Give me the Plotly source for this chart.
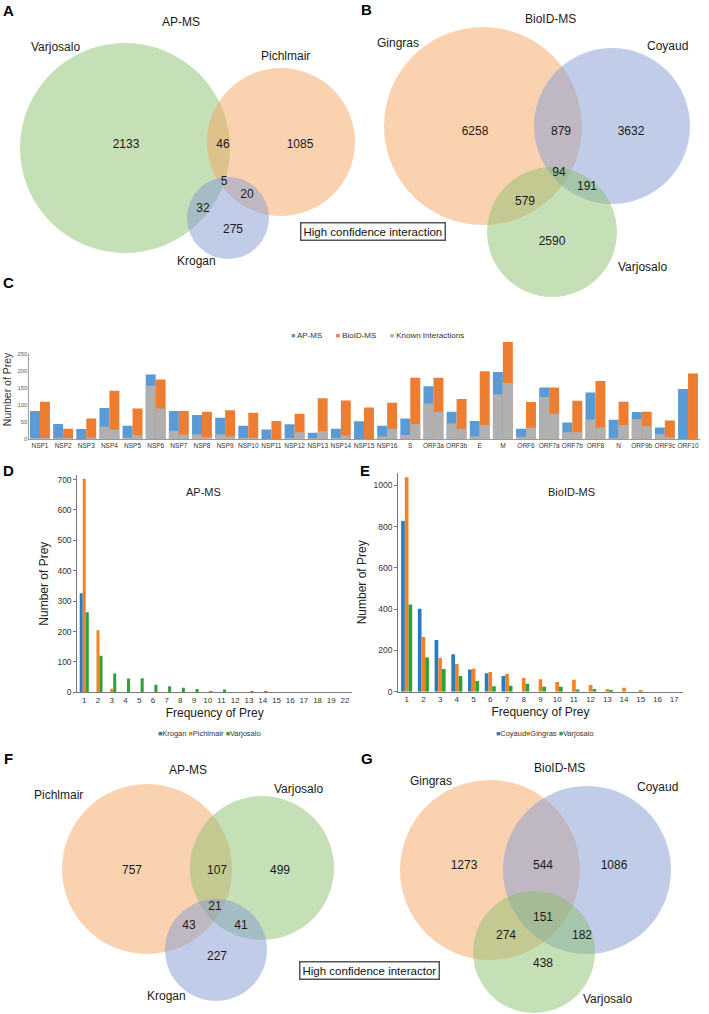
import plotly.graph_objects as go

W, H = 709, 1014
FONT = "Liberation Sans, Arial, Helvetica, sans-serif"

# ---------------- Panel C data ----------------
c_categories = ["NSP1", "NSP2", "NSP3", "NSP4", "NSP5", "NSP6", "NSP7", "NSP8", "NSP9", "NSP10",
                "NSP11", "NSP12", "NSP13", "NSP14", "NSP15", "NSP16", "S", "ORF3a", "ORF3b", "E",
                "M", "ORF6", "ORF7a", "ORF7b", "ORF8", "N", "ORF9b", "ORF9c", "ORF10"]
c_apms_total = [82, 44, 29, 91, 39, 189, 82, 70, 62, 39, 28, 43, 18, 30, 52, 39, 60, 154, 80, 53,
                196, 30, 151, 48, 136, 56, 79, 34, 146]
c_apms_known = [2, 4, 0, 36, 4, 156, 24, 13, 13, 1, 0, 3, 2, 3, 0, 7, 12, 104, 45, 7,
                130, 6, 123, 20, 57, 3, 58, 14, 0]
c_bioid_total = [109, 30, 60, 141, 89, 174, 82, 80, 84, 77, 53, 74, 119, 113, 92, 106, 179, 179, 117, 198,
                 284, 108, 151, 112, 170, 109, 80, 54, 192]
c_bioid_known = [3, 2, 4, 28, 11, 89, 13, 6, 8, 4, 0, 20, 23, 10, 0, 30, 44, 79, 30, 41,
                 164, 34, 74, 20, 34, 41, 37, 5, 0]

# ---------------- Panel D data ----------------
d_freq = [str(i) for i in range(1, 20)] + ["22"]
d_krogan = [326, 0, 0, 0, 0, 0, 0, 0, 0, 0, 0, 0, 0, 0, 0, 0, 0, 0, 0, 0]
d_pichlmair = [703, 204, 12, 0, 0, 0, 0, 0, 0, 0, 0, 0, 0, 0, 0, 0, 0, 0, 0, 0]
d_varjosalo = [263, 120, 62, 45, 46, 25, 20, 15, 11, 4, 9, 0, 2, 3, 0, 0, 0, 0, 0, 0]

# ---------------- Panel E data ----------------
e_freq = [str(i) for i in range(1, 18)]
e_coyaud = [827, 402, 250, 181, 108, 89, 76, 0, 0, 0, 0, 0, 0, 0, 0, 0, 0]
e_gingras = [1040, 265, 163, 134, 111, 95, 86, 66, 60, 47, 58, 32, 13, 19, 8, 0, 0]
e_varjosalo = [423, 166, 110, 76, 52, 27, 29, 39, 24, 24, 11, 13, 6, 0, 0, 0, 0]

# ---------------- Venn data (region counts) ----------------
a_counts = [2133, 46, 1085, 5, 20, 32, 275]
b_counts = [6258, 879, 3632, 94, 191, 579, 2590]
f_counts = [757, 107, 499, 21, 43, 41, 227]
g_counts = [1273, 544, 1086, 151, 274, 182, 438]

# colours
C_BLUE, C_ORANGE, C_GRAY = "#5B9BD5", "#ED7D31", "#B0B0B0"
D_BLUE, D_ORANGE, D_GREEN = "#2A7AC0", "#F58220", "#2EA03A"
V_ORANGE = "rgba(245,165,97,0.5)"
V_GREEN = "rgba(140,192,112,0.5)"
V_BLUE = "rgba(132,156,210,0.5)"

# Venn layout (pixel geometry of each panel: circles and text positions)
venn = {
    "A": dict(circles=[(125, 148, 105, V_GREEN), (281, 142, 74, V_ORANGE), (228, 218, 41, V_BLUE)],
              labels=[("AP-MS", 181, 22), ("Varjosalo", 55, 47), ("Pichlmair", 285, 56), ("Krogan", 196, 261)],
              pos=[(126, 145), (223, 145), (300, 145), (224, 182), (247, 195), (203, 209), (233, 230)],
              counts=a_counts),
    "B": dict(circles=[(483, 126, 99, V_ORANGE), (612, 126, 78, V_BLUE), (552, 232, 65, V_GREEN)],
              labels=[("BioID-MS", 550, 19), ("Gingras", 398, 43), ("Coyaud", 667, 46), ("Varjosalo", 642, 267)],
              pos=[(475, 132), (561, 132), (631, 132), (559, 173), (587, 187), (525, 202), (552, 242)],
              counts=b_counts),
    "F": dict(circles=[(147, 869, 85, V_ORANGE), (262, 868, 72, V_GREEN), (216, 950, 51, V_BLUE)],
              labels=[("AP-MS", 188, 770), ("Pichlmair", 58, 795), ("Varjosalo", 298, 789), ("Krogan", 166, 996)],
              pos=[(132, 871), (217, 871), (280, 871), (215, 907), (189, 926), (241, 926), (217, 957)],
              counts=f_counts),
    "G": dict(circles=[(490, 870, 90, V_ORANGE), (587, 870, 84, V_BLUE), (534, 952, 61, V_GREEN)],
              labels=[("BioID-MS", 559, 768), ("Gingras", 431, 781), ("Coyaud", 657, 787), ("Varjosalo", 607, 999)],
              pos=[(464, 866), (543, 866), (614, 866), (543, 918), (506, 936), (582, 936), (543, 964)],
              counts=g_counts),
}


def py(y):
    return 1 - y / H


def pxx(x):
    return x / W


fig = go.Figure()

# ---------- Panel C: stacked/grouped bars ----------
bw = 0.43
fig.add_trace(go.Bar(x=c_categories, y=c_apms_total, name="AP-MS", marker_color=C_BLUE,
                     offset=-bw, width=bw, xaxis="x", yaxis="y", showlegend=False))
fig.add_trace(go.Bar(x=c_categories, y=c_apms_known, name="Known Interactions", marker_color=C_GRAY,
                     offset=-bw, width=bw, xaxis="x", yaxis="y", showlegend=False))
fig.add_trace(go.Bar(x=c_categories, y=c_bioid_total, name="BioID-MS", marker_color=C_ORANGE,
                     offset=0, width=bw, xaxis="x", yaxis="y", showlegend=False))
fig.add_trace(go.Bar(x=c_categories, y=c_bioid_known, name="Known Interactions", marker_color=C_GRAY,
                     offset=0, width=bw, xaxis="x", yaxis="y", showlegend=False))

# ---------- Panel D ----------
dw = 0.22
for vals, name, col, off in [(d_krogan, "Krogan", D_BLUE, -1.5 * dw),
                             (d_pichlmair, "Pichlmair", D_ORANGE, -0.5 * dw),
                             (d_varjosalo, "Varjosalo", D_GREEN, 0.5 * dw)]:
    fig.add_trace(go.Bar(x=d_freq, y=vals, name=name, marker_color=col, offset=off, width=dw,
                         xaxis="x2", yaxis="y2", showlegend=False))

# ---------- Panel E ----------
for vals, name, col, off in [(e_coyaud, "Coyaud", D_BLUE, -1.5 * dw),
                             (e_gingras, "Gingras", D_ORANGE, -0.5 * dw),
                             (e_varjosalo, "Varjosalo", D_GREEN, 0.5 * dw)]:
    fig.add_trace(go.Bar(x=e_freq, y=vals, name=name, marker_color=col, offset=off, width=dw,
                         xaxis="x3", yaxis="y3", showlegend=False))

# ---------- Venn overlay axis ----------
shapes = []
annotations = []
for key, v in venn.items():
    for (cx, cy, r, col) in v["circles"]:
        shapes.append(dict(type="circle", xref="x4", yref="y4", x0=cx - r, x1=cx + r,
                           y0=cy - r, y1=cy + r, fillcolor=col, line=dict(width=0), layer="below"))
    fig.add_trace(go.Scatter(x=[p[0] for p in v["pos"]], y=[p[1] for p in v["pos"]],
                             text=[str(c) for c in v["counts"]], mode="text",
                             textfont=dict(size=12, color="#1a1a1a", family=FONT),
                             xaxis="x4", yaxis="y4", showlegend=False, hoverinfo="skip"))
    for (t, x, y) in v["labels"]:
        annotations.append(dict(text=t, x=x, y=y, xref="x4", yref="y4", showarrow=False,
                                font=dict(size=12, color="#1a1a1a", family=FONT)))

# panel letters
for t, x, y in [("A", 8, 10), ("B", 366, 9), ("C", 8, 282), ("D", 8, 470), ("E", 365, 470),
                ("F", 8, 758), ("G", 367, 758)]:
    annotations.append(dict(text="<b>%s</b>" % t, x=x, y=y, xref="x4", yref="y4", showarrow=False,
                            font=dict(size=15, color="#000", family=FONT)))

# High confidence boxes
annotations.append(dict(text="High confidence interaction", x=373, y=231, xref="x4", yref="y4",
                        showarrow=False, font=dict(size=11.5, color="#111", family=FONT),
                        bordercolor="#555", borderwidth=1.5, borderpad=2, bgcolor="white"))
annotations.append(dict(text="High confidence interactor", x=369, y=970, xref="x4", yref="y4",
                        showarrow=False, font=dict(size=11.5, color="#111", family=FONT),
                        bordercolor="#555", borderwidth=1.5, borderpad=2, bgcolor="white"))

# subplot titles for D/E
annotations.append(dict(text="AP-MS", x=203, y=492, xref="x4", yref="y4", showarrow=False,
                        font=dict(size=11, color="#222", family=FONT)))
annotations.append(dict(text="BioID-MS", x=571, y=492, xref="x4", yref="y4", showarrow=False,
                        font=dict(size=11, color="#222", family=FONT)))


def sq(col):
    return "<span style='color:%s;font-size:7px'>■</span>" % col


# legends as text
annotations.append(dict(text=sq(C_BLUE) + " AP-MS\u00a0\u00a0\u00a0\u00a0\u00a0\u00a0" + sq(C_ORANGE) +
                        " BioID-MS\u00a0\u00a0\u00a0\u00a0\u00a0\u00a0" + sq(C_GRAY) + " Known Interactions",
                        x=377, y=335, xref="x4", yref="y4", showarrow=False,
                        font=dict(size=8, color="#333", family=FONT)))
annotations.append(dict(text=sq(D_BLUE) + "Krogan " + sq(D_ORANGE) + "Pichlmair " + sq(D_GREEN) + "Varjosalo",
                        x=209, y=733, xref="x4", yref="y4", showarrow=False,
                        font=dict(size=7.5, color="#333", family=FONT)))
annotations.append(dict(text=sq(D_BLUE) + "Coyaud" + sq(D_ORANGE) + "Gingras " + sq(D_GREEN) + "Varjosalo",
                        x=545, y=733, xref="x4", yref="y4", showarrow=False,
                        font=dict(size=7.5, color="#333", family=FONT)))

# short y axis line for panel C (0..250)
shapes.append(dict(type="line", xref="x domain", yref="y", x0=0, x1=0, y0=0, y1=250,
                   line=dict(color="#999", width=1)))

axis_common = dict(showgrid=False, zeroline=False, fixedrange=True, automargin=False)

fig.update_layout(
    template="none",
    width=W, height=H, margin=dict(l=0, r=0, t=0, b=0, pad=0),
    paper_bgcolor="white", plot_bgcolor="rgba(0,0,0,0)",
    barmode="overlay", showlegend=False,
    font=dict(family=FONT, color="#222"),
    shapes=shapes, annotations=annotations,
    # Panel C
    xaxis=dict(domain=[pxx(28.4), pxx(699.6)], range=[-0.5, 28.5], type="category",
               categoryorder="array", categoryarray=c_categories, anchor="y",
               showline=True, linecolor="#999", linewidth=1, ticks="", tickangle=0,
               tickfont=dict(size=6.5, color="#333"), **axis_common),
    yaxis=dict(domain=[py(439), py(339.9)], range=[0, 290], anchor="x",
               tickvals=[0, 50, 100, 150, 200, 250], showline=False, ticks="",
               tickfont=dict(size=6, color="#666"),
               title=dict(text="Number of Prey", font=dict(size=10.5, color="#333"), standoff=3),
               **axis_common),
    # Panel D
    xaxis2=dict(domain=[pxx(77.4), pxx(351.9)], range=[-0.5, 19.5], type="category",
                categoryorder="array", categoryarray=d_freq, anchor="y2",
                showline=True, linecolor="#777", linewidth=1.2, ticks="", tickangle=0,
                tickfont=dict(size=8, color="#333"),
                title=dict(text="Frequency of Prey", font=dict(size=12, color="#222"), standoff=4),
                **axis_common),
    yaxis2=dict(domain=[py(692.3), py(475)], range=[0, 715], anchor="x2",
                tickvals=[0, 100, 200, 300, 400, 500, 600, 700],
                showline=True, linecolor="#777", linewidth=1.2, ticks="outside", ticklen=3,
                tickcolor="#777", tickfont=dict(size=8.5, color="#333"),
                title=dict(text="Number of Prey", font=dict(size=12, color="#222"), standoff=6),
                **axis_common),
    # Panel E
    xaxis3=dict(domain=[pxx(398.3), pxx(682.6)], range=[-0.5, 16.5], type="category",
                categoryorder="array", categoryarray=e_freq, anchor="y3",
                showline=True, linecolor="#777", linewidth=1.2, ticks="", tickangle=0,
                tickfont=dict(size=8, color="#333"),
                title=dict(text="Frequency of Prey", font=dict(size=12, color="#222"), standoff=4),
                **axis_common),
    yaxis3=dict(domain=[py(691.7), py(473)], range=[0, 1060], anchor="x3",
                tickvals=[0, 200, 400, 600, 800, 1000],
                showline=True, linecolor="#777", linewidth=1.2, ticks="outside", ticklen=3,
                tickcolor="#777", tickfont=dict(size=8.5, color="#333"),
                title=dict(text="Number of Prey", font=dict(size=12, color="#222"), standoff=4),
                **axis_common),
    # Venn overlay (pixel coordinate system)
    xaxis4=dict(domain=[0, 1], range=[0, W], anchor="y4", visible=False, **axis_common),
    yaxis4=dict(domain=[0, 1], range=[H, 0], anchor="x4", visible=False, **axis_common),
)

fig.write_html("out.html", config={"displayModeBar": False},
               post_script="document.body.style.margin='0';document.body.style.overflow='hidden';")
